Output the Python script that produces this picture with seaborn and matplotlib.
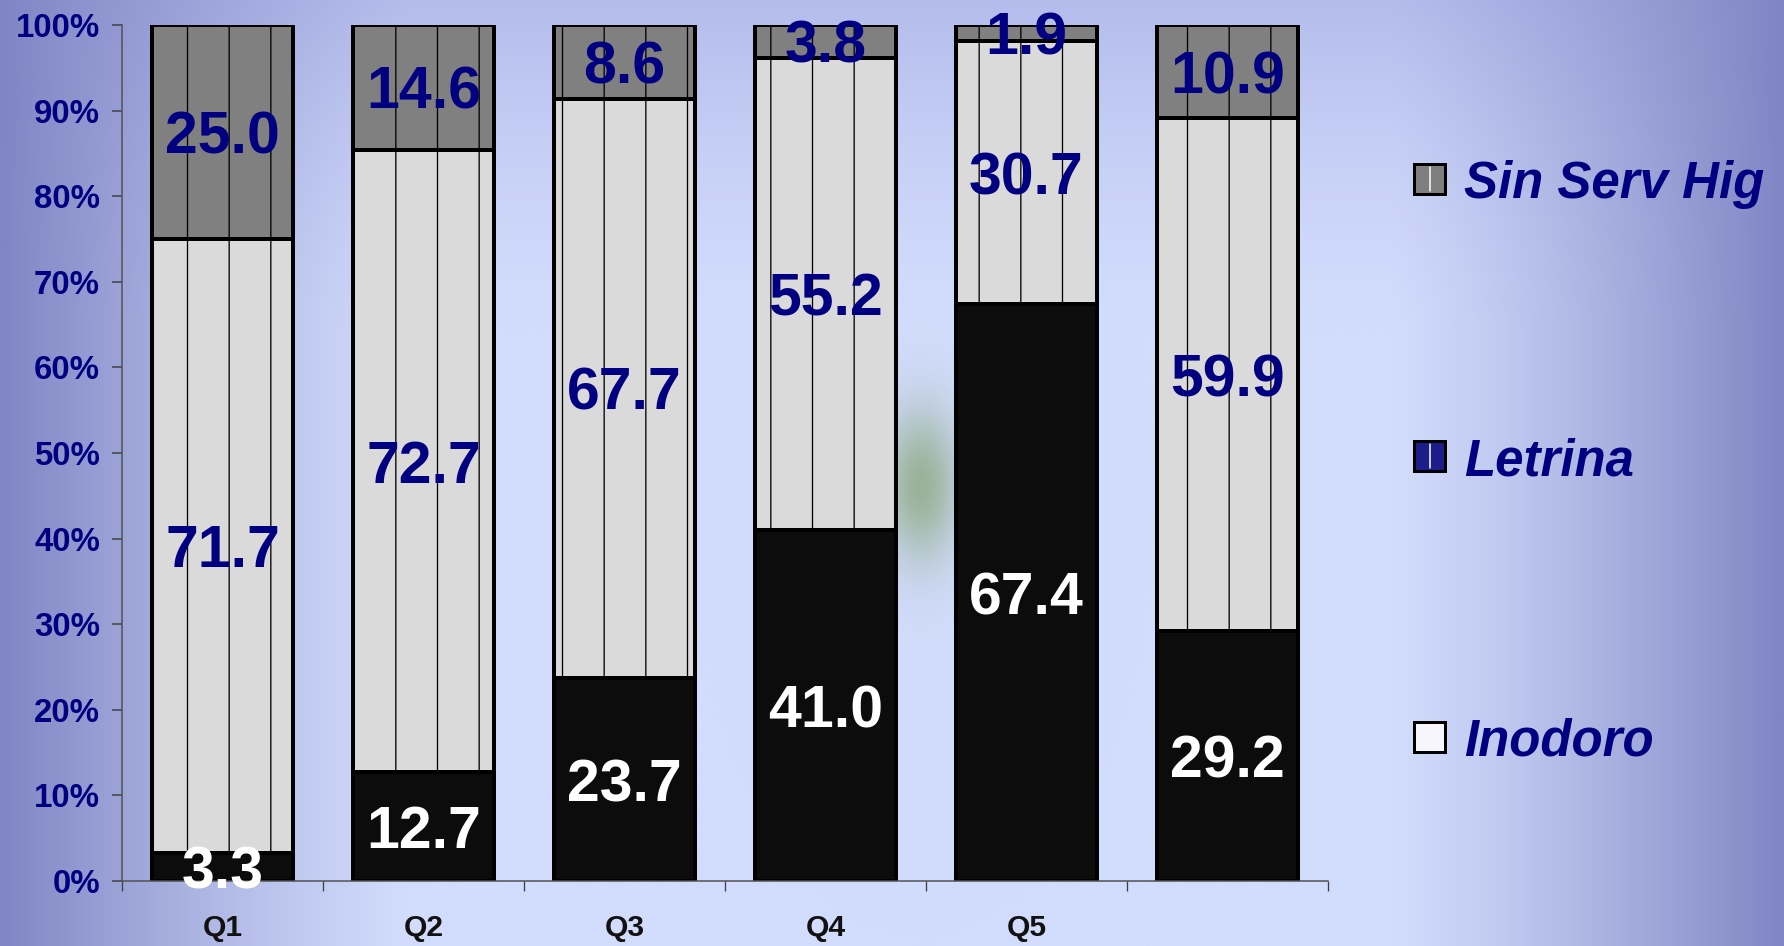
import numpy as np
import pandas as pd
import matplotlib
matplotlib.use("Agg")
import matplotlib.pyplot as plt
import seaborn as sns
from matplotlib.patches import Rectangle
from matplotlib.lines import Line2D

# ---- data ----
quintiles = ["Q1", "Q2", "Q3", "Q4", "Q5", "Total"]
tick_labels = ["Q1", "Q2", "Q3", "Q4", "Q5", ""]
inodoro = [3.3, 12.7, 23.7, 41.0, 67.4, 29.2]      # bottom segment
letrina = [71.7, 72.7, 67.7, 55.2, 30.7, 59.9]     # middle segment
sin_serv = [25.0, 14.6, 8.6, 3.8, 1.9, 10.9]       # top segment
legend_labels = ["Sin Serv Hig", "Letrina", "Inodoro"]
yticks = list(range(0, 101, 10))

DPI = 250
W, H = 1784, 946


def px(n):
    # pixels of the output -> points
    return n * 72 / DPI


NAVY = "#000080"

sns.set_theme(style="ticks")
plt.rcParams["font.family"] = ["Liberation Sans", "DejaVu Sans"]
plt.rcParams["hatch.linewidth"] = px(1.3)

fig = plt.figure(figsize=(W / DPI, H / DPI), dpi=DPI)

# ---- background gradient ----
bg = fig.add_axes([0, 0, 1, 1], zorder=-10)
xs = np.linspace(0, 1, 500)
ys = np.linspace(0, 1, 260)
X, Y = np.meshgrid(xs, ys)
light = np.array([210, 220, 252]) / 255
topc = np.array([180, 188, 236]) / 255
edge = np.array([128, 134, 196]) / 255
v = np.clip(1 - Y / 0.35, 0, 1) ** 1.5
h = np.maximum(np.clip(1 - X / 0.23, 0, 1), np.clip((X - 0.78) / 0.22, 0, 1)) ** 1.2
img = light * (1 - v[..., None]) + topc * v[..., None]
img = img * (1 - h[..., None]) + edge * h[..., None]
g = 0.8 * np.exp(-(((X - 921 / W) / 0.022) ** 2 + ((Y - 485 / H) / 0.08) ** 2))
green = np.array([140, 168, 128]) / 255
img = img * (1 - g[..., None]) + green * g[..., None]
bg.imshow(img, aspect="auto", extent=[0, 1, 0, 1], interpolation="bilinear")
bg.axis("off")

# ---- main axes ----
ax = fig.add_axes([122 / W, 1 - 881 / H, (1328 - 122) / W, (881 - 25) / H])
ax.set_facecolor("none")

df = pd.DataFrame({"quintil": quintiles, "inodoro": inodoro,
                   "letrina": letrina, "sin": sin_serv})
df["cum_mid"] = df["inodoro"] + df["letrina"]
df["cum_top"] = df["cum_mid"] + df["sin"]

common = dict(x="quintil", data=df, width=0.70, saturation=1, errorbar=None,
              edgecolor="black", linewidth=px(4), ax=ax)
sns.barplot(y="cum_top", color="#808080", hatch="|", **common)
sns.barplot(y="cum_mid", color="#dadada", hatch="|", **common)
sns.barplot(y="inodoro", color="#0c0c0c", **common)

# value labels
lab_kw = dict(ha="center", va="center_baseline", fontsize=px(59), fontweight="bold")
for i, (b, m, t) in enumerate(zip(inodoro, letrina, sin_serv)):
    ax.text(i, b / 2, f"{b:.1f}", color="white", **lab_kw)
    ax.text(i, b + m / 2, f"{m:.1f}", color=NAVY, **lab_kw)
    ax.text(i, b + m + t / 2, f"{t:.1f}", color=NAVY, **lab_kw)

# axes styling
ax.set_ylim(0, 100)
ax.set_yticks(yticks)
ax.set_yticklabels([f"{v}%" for v in yticks])
ax.set_xticks(range(len(quintiles)))
ax.set_xticklabels(tick_labels)
ax.set_xticks(np.arange(-0.5, len(quintiles), 1), minor=True)
ax.set_xlim(-0.5, len(quintiles) - 0.5)
ax.set_xlabel("")
ax.set_ylabel("")

ax.tick_params(axis="x", which="major", length=0, pad=px(33),
               labelsize=px(30), labelcolor="#111111")
ax.tick_params(axis="x", which="minor", length=px(10), width=px(1.3),
               color="#404040", direction="out")
ax.tick_params(axis="y", length=px(10), width=px(1.5), color="#404040",
               direction="out", pad=px(12), labelsize=px(33), labelcolor=NAVY)
for lab in ax.get_xticklabels() + ax.get_yticklabels():
    lab.set_fontweight("bold")

sns.despine(ax=ax)
for s in ["left", "bottom"]:
    ax.spines[s].set_color("#505050")
    ax.spines[s].set_linewidth(px(1.5))

# ---- legend ----
legend_faces = ["#7f7f7f", "#1c1c8a", "#f6f6fc"]
legend_rows = [179, 456, 737]
for lab, face, row in zip(legend_labels, legend_faces, legend_rows):
    fig.add_artist(Rectangle((1414 / W, 1 - (row + 15) / H), 31 / W, 30 / H,
                             facecolor=face, edgecolor="black",
                             linewidth=px(3), transform=fig.transFigure))
    if face != legend_faces[-1]:
        fig.add_artist(Line2D([1429.5 / W] * 2, [1 - (row + 12) / H, 1 - (row - 12) / H],
                              color="white", linewidth=px(1.5),
                              transform=fig.transFigure))
    fig.text(1464 / W, 1 - row / H, lab, va="center_baseline", ha="left",
             fontsize=px(51), fontweight="bold", fontstyle="italic", color=NAVY)

fig.savefig("out.png", dpi=DPI)
